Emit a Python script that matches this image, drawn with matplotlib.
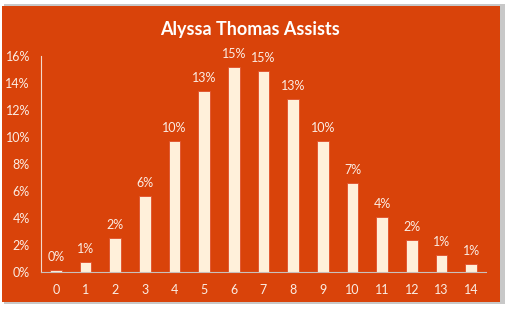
import matplotlib.pyplot as plt
from matplotlib.patches import Rectangle

assists = list(range(15))
share = [0.15, 0.72, 2.5, 5.65, 9.7, 13.4, 15.2, 14.9, 12.8, 9.7, 6.6, 4.1, 2.35, 1.24, 0.6]
labels = ["0%", "1%", "2%", "6%", "10%", "13%", "15%", "15%", "13%", "10%", "7%", "4%", "2%", "1%", "1%"]
yticks = [0, 2, 4, 6, 8, 10, 12, 14, 16]

bg = "#D9430A"
cream = "#FFF0DA"
txt = "#FBEDE4"

plt.rcParams["font.family"] = ["Lato", "DejaVu Sans"]

fig = plt.figure(figsize=(5.12, 3.10), dpi=100, facecolor="white")
# shadow + orange panel, behind the axes
fig.patches.append(Rectangle((4 / 512, 6 / 310), 501 / 512, 300 / 310,
                             transform=fig.transFigure, facecolor="#C8C8C8",
                             edgecolor="none", zorder=-2))
fig.patches.append(Rectangle((2 / 512, 8 / 310), 498 / 512, 296 / 310,
                             transform=fig.transFigure, facecolor=bg,
                             edgecolor="none", zorder=-1))

ax = fig.add_axes([41 / 512, 38 / 310, 445 / 512, 216 / 310])
ax.set_facecolor(bg)

bars = ax.bar(assists, share, width=0.4, color=cream, edgecolor="#E0502A", linewidth=0.6)
for b, lab in zip(bars, labels):
    ax.annotate(lab, (b.get_x() + b.get_width() / 2, b.get_height()),
                xytext=(0, 5), textcoords="offset points", ha="center", va="bottom",
                color=txt, fontsize=9)

ax.set_xlim(-0.5, 14.5)
ax.set_ylim(0, 16)
ax.set_xticks(assists)
ax.set_xticklabels([str(a) for a in assists])
ax.set_yticks(yticks)
ax.set_yticklabels([f"{t}%" for t in yticks])
ax.tick_params(length=0, colors=txt, labelsize=9)
ax.tick_params(axis="x", pad=9)
ax.tick_params(axis="y", pad=8)

for s in ["top", "right"]:
    ax.spines[s].set_visible(False)
ax.spines["left"].set_color("#F3D9CC")
ax.spines["bottom"].set_color("#C9C0BC")

fig.text(250 / 512, 1 - 29 / 310, "Alyssa Thomas Assists", ha="center", va="center",
         color="white", fontsize=13, fontweight="bold")

fig.savefig("out.png", dpi=100, facecolor="white")
